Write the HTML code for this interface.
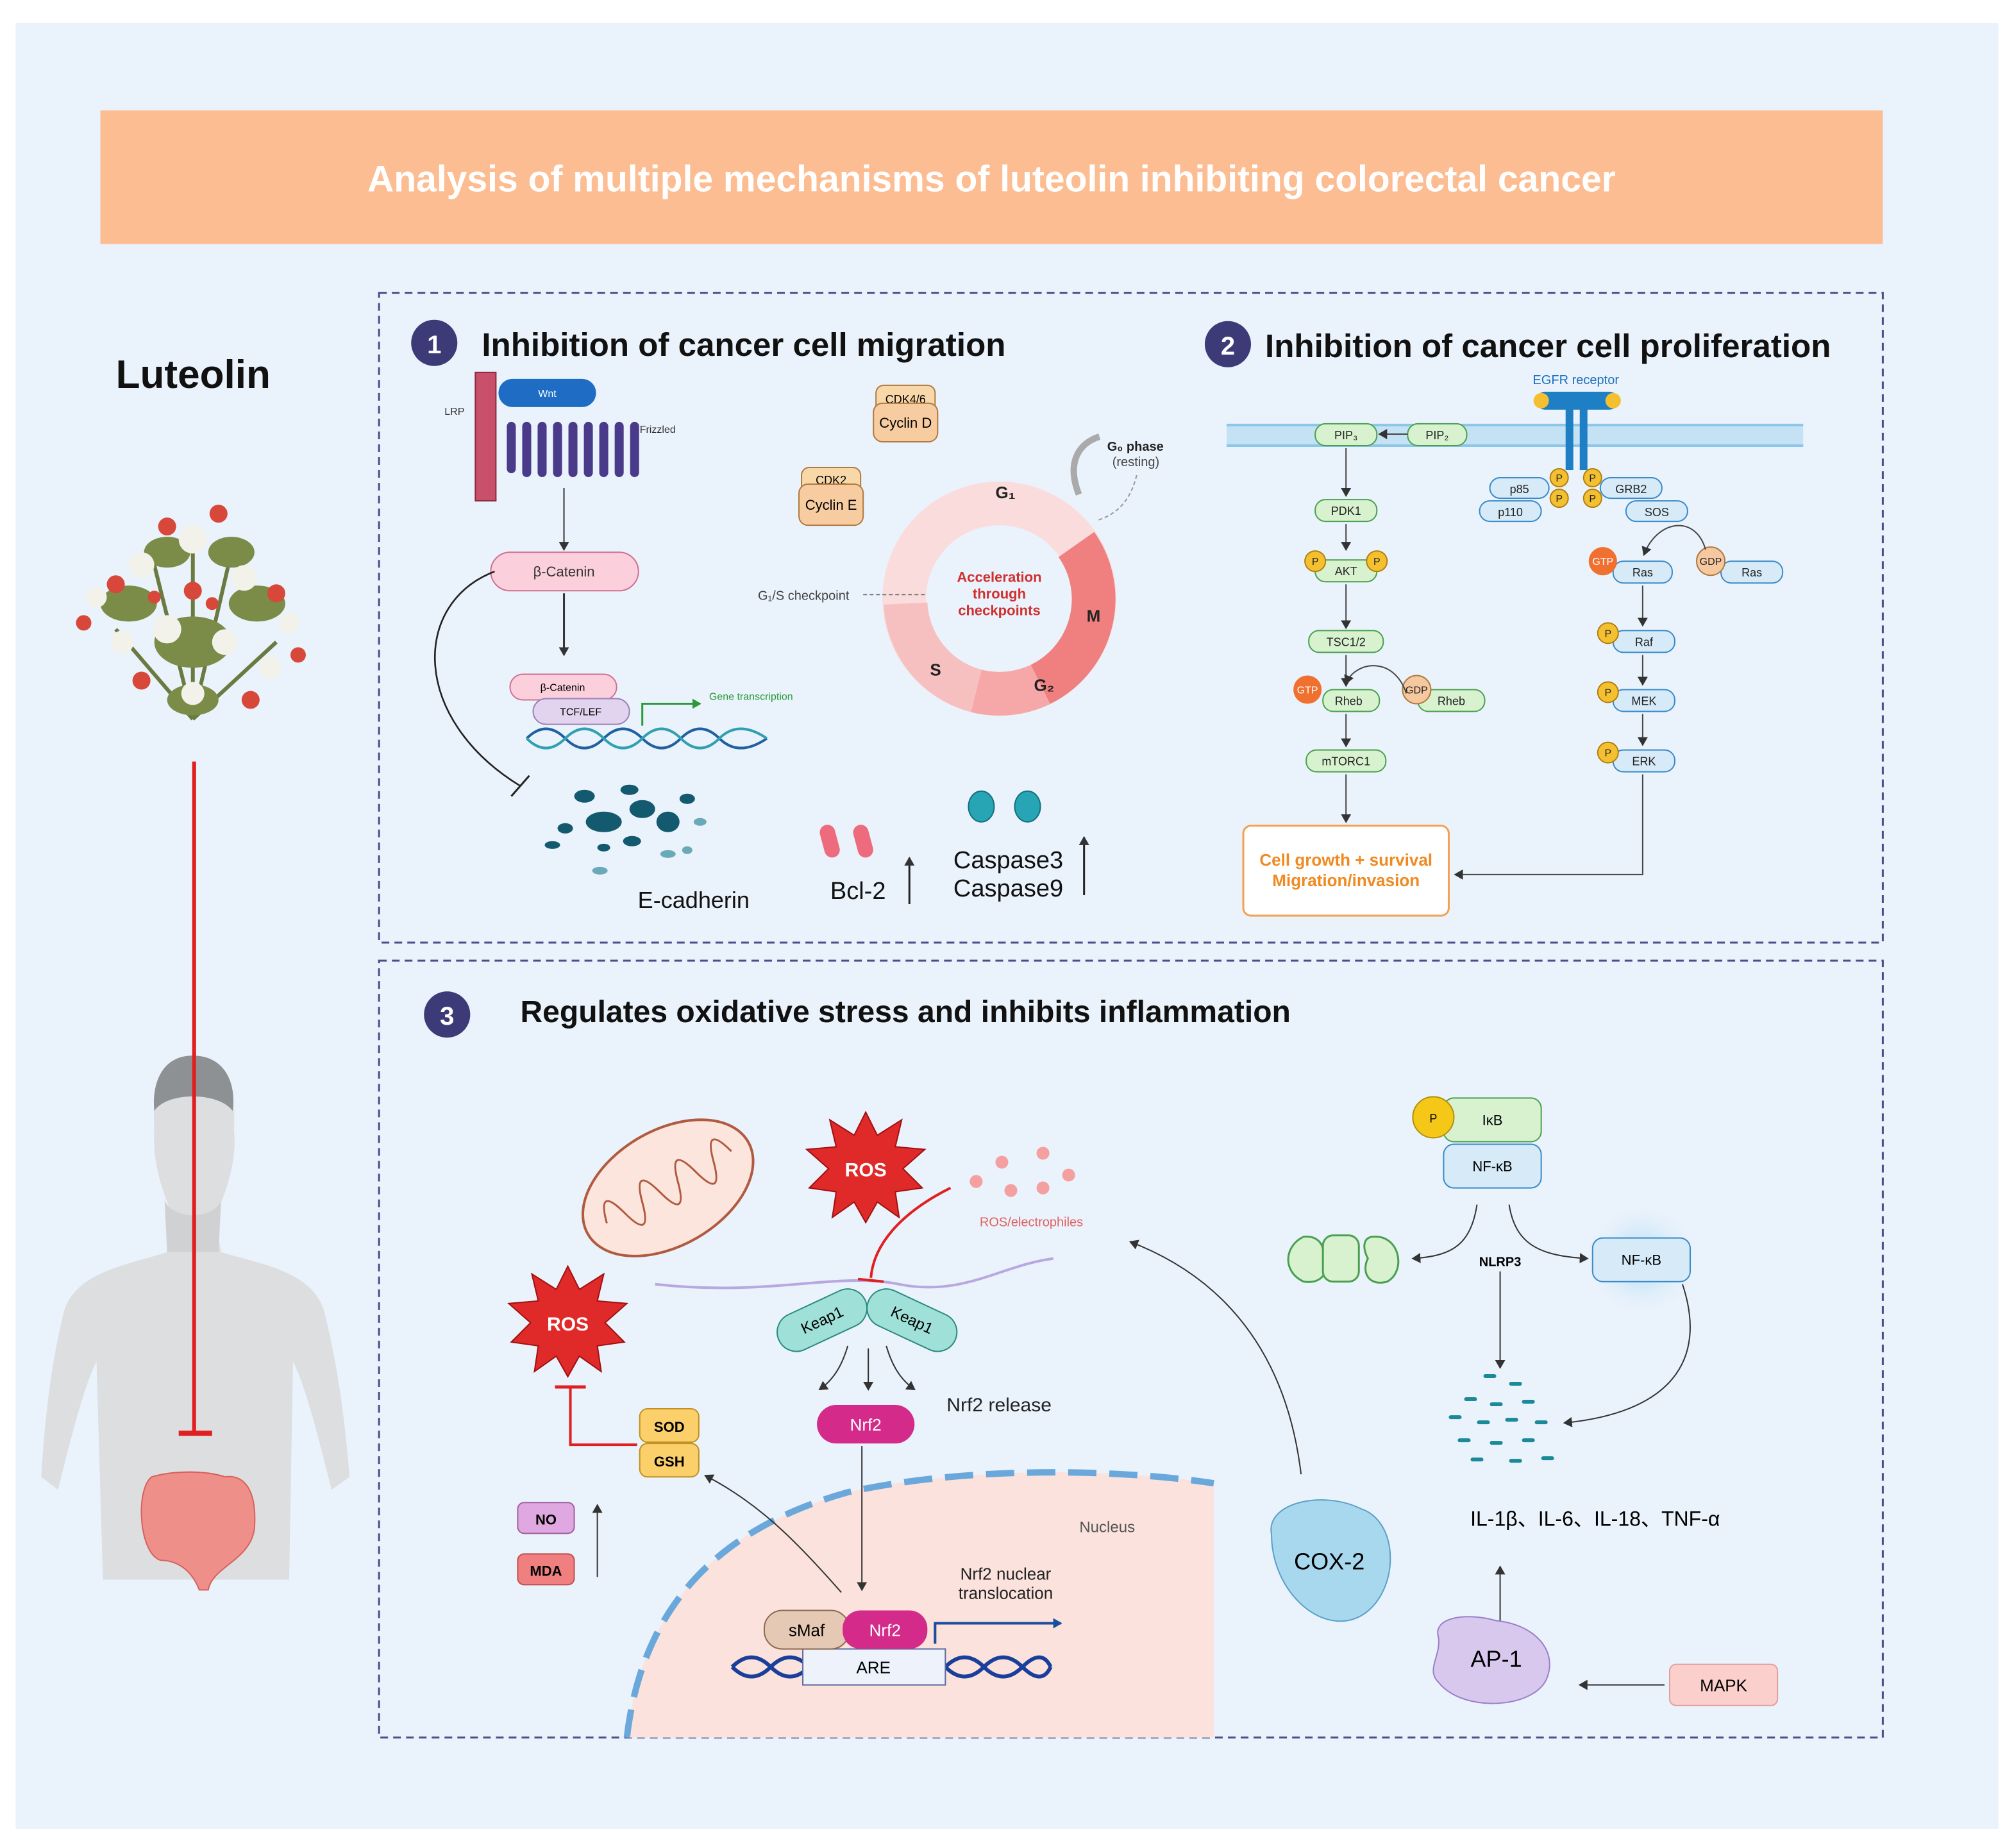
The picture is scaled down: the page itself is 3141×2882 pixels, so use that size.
<!DOCTYPE html>
<html><head><meta charset="utf-8"><style>
html,body{margin:0;padding:0;background:#fff}
svg{display:block}
text{font-family:"Liberation Sans",Arial,sans-serif}
</style></head><body>
<svg width="3141" height="2882" viewBox="0 0 1568 1439" xmlns="http://www.w3.org/2000/svg">
<defs>
<marker id="ah" markerWidth="8" markerHeight="8" refX="6" refY="4" orient="auto" markerUnits="userSpaceOnUse"><path d="M0,0 L7,4 L0,8 z" fill="#333"/></marker>
<marker id="ahb" markerWidth="8" markerHeight="8" refX="6" refY="4" orient="auto" markerUnits="userSpaceOnUse"><path d="M0,0 L7,4 L0,8 z" fill="#1a4fa0"/></marker>
<marker id="ahg" markerWidth="8" markerHeight="8" refX="6" refY="4" orient="auto" markerUnits="userSpaceOnUse"><path d="M0,0 L7,4 L0,8 z" fill="#2a9a3a"/></marker>
<radialGradient id="glow"><stop offset="0" stop-color="#9fd8f5"/><stop offset="1" stop-color="#eaf2fb" stop-opacity="0"/></radialGradient>
</defs>
<rect x="12" y="18" width="1544" height="1406" fill="#eaf2fb"/>
<rect x="78" y="86" width="1388" height="104" fill="#fdbd92"/>
<text x="772" y="149" font-size="28.5" font-weight="bold" fill="#fff" text-anchor="middle">Analysis of multiple mechanisms of luteolin inhibiting colorectal cancer</text>

<rect x="295" y="228" width="1171" height="506" fill="none" stroke="#4a4f8a" stroke-width="1.5" stroke-dasharray="6,4"/>
<rect x="295" y="748" width="1171" height="605" fill="none" stroke="#4a4f8a" stroke-width="1.5" stroke-dasharray="6,4"/>

<!-- left -->
<text x="90" y="302" font-size="31" font-weight="bold" fill="#111">Luteolin</text>
<g>
<g stroke="#6a7a40" stroke-width="3" fill="none"><path d="M150,560 L120,440 M150,560 L180,430 M150,560 L90,490 M150,560 L215,500 M150,560 L150,410"/></g>
<g fill="#7a8c48"><ellipse cx="100" cy="470" rx="22" ry="14"/><ellipse cx="200" cy="470" rx="22" ry="14"/><ellipse cx="150" cy="500" rx="30" ry="20"/><ellipse cx="130" cy="430" rx="18" ry="12"/><ellipse cx="180" cy="430" rx="18" ry="12"/><ellipse cx="150" cy="545" rx="20" ry="12"/></g>
<g fill="#f2f2ea"><circle cx="110" cy="440" r="10"/><circle cx="150" cy="420" r="11"/><circle cx="190" cy="450" r="10"/><circle cx="130" cy="490" r="11"/><circle cx="175" cy="500" r="10"/><circle cx="95" cy="500" r="9"/><circle cx="210" cy="520" r="9"/><circle cx="150" cy="540" r="9"/><circle cx="75" cy="465" r="8"/><circle cx="225" cy="485" r="8"/></g>
<g fill="#d8483a"><circle cx="130" cy="410" r="7"/><circle cx="170" cy="400" r="7"/><circle cx="90" cy="455" r="7"/><circle cx="215" cy="462" r="7"/><circle cx="150" cy="460" r="7"/><circle cx="110" cy="530" r="7"/><circle cx="195" cy="545" r="7"/><circle cx="65" cy="485" r="6"/><circle cx="232" cy="510" r="6"/><circle cx="165" cy="470" r="5"/><circle cx="120" cy="465" r="5"/></g>
</g>
<!-- body -->
<path d="M150,822 C125,822 118,850 120,880 C118,910 130,935 135,950 L130,975 C100,985 60,990 50,1020 C40,1060 35,1100 32,1150 L45,1160 C55,1120 65,1080 75,1060 L80,1230 L225,1230 L228,1060 C238,1080 248,1120 258,1160 L272,1150 C268,1100 262,1060 252,1020 C242,990 205,985 172,975 L167,950 C172,935 185,910 182,880 C184,850 176,822 150,822 z" fill="#dcdee0"/>
<path d="M150,822 C125,822 118,845 120,865 C130,850 170,850 181,865 C184,845 176,822 150,822 z" fill="#8e9194"/>
<path d="M128,935 C135,950 165,950 172,935 L170,975 L130,975 z" fill="#cfd1d3"/>
<path d="M118,1150 C105,1160 108,1210 125,1215 C140,1215 150,1225 155,1238 L162,1238 C165,1220 195,1215 198,1190 C200,1160 190,1148 175,1150 C160,1145 135,1145 118,1150 z" fill="#ee8f8a" stroke="#d9605c" stroke-width="1"/>
<line x1="151" y1="593" x2="151" y2="1115" stroke="#e02020" stroke-width="3"/>
<line x1="139" y1="1116" x2="165" y2="1116" stroke="#e02020" stroke-width="4"/>

<!-- section 1 -->
<circle cx="338" cy="267" r="18" fill="#3d3a78"/><text x="338" y="275" font-size="20" font-weight="bold" fill="#fff" text-anchor="middle">1</text>
<text x="375" y="277" font-size="25.5" font-weight="bold" fill="#111">Inhibition of cancer cell migration</text>
<rect x="370" y="290" width="16" height="100" fill="#c9506a" stroke="#8a2a40"/>
<text x="346" y="323" font-size="8" fill="#333">LRP</text>
<rect x="388" y="295" width="76" height="22" rx="11" fill="#1f6cc4"/><text x="426" y="309" font-size="8" fill="#fff" text-anchor="middle">Wnt</text>
<path d="M398,365 V332 M410,332 V368 M422,368 V332 M434,332 V368 M446,368 V332 M458,332 V368 M470,368 V332 M482,332 V368 M494,368 V332" stroke="#4a3a8a" stroke-width="7" fill="none" stroke-linecap="round"/>
<text x="498" y="337" font-size="8" fill="#333">Frizzled</text>
<line x1="439" y1="380" x2="439" y2="428" stroke="#333" marker-end="url(#ah)"/>
<rect x="382" y="430" width="115" height="30" rx="15" fill="#fbd0dc" stroke="#d07090"/><text x="439" y="449" font-size="11" fill="#333" text-anchor="middle">β-Catenin</text>
<line x1="439" y1="462" x2="439" y2="510" stroke="#333" stroke-width="1.5" marker-end="url(#ah)"/>
<path d="M385,445 C320,470 320,560 405,612" stroke="#222" stroke-width="1.3" fill="none"/>
<line x1="398" y1="620" x2="412" y2="604" stroke="#222" stroke-width="1.5"/>
<rect x="397" y="525" width="83" height="20" rx="10" fill="#fbd0dc" stroke="#d07090"/><text x="438" y="538" font-size="8" text-anchor="middle">β-Catenin</text>
<rect x="415" y="544" width="75" height="20" rx="10" fill="#e2d4ee" stroke="#9a80b8"/><text x="452" y="557" font-size="8" text-anchor="middle">TCF/LEF</text>
<path d="M410,575 Q425,560 440,575 T470,575 T500,575 T530,575 T560,575 T597,575" stroke="#2060a0" stroke-width="2" fill="none"/>
<path d="M410,575 Q425,590 440,575 T470,575 T500,575 T530,575 T560,575 T597,575" stroke="#30a0b0" stroke-width="2" fill="none"/>
<path d="M500,565 V548 H545" stroke="#2a9a3a" stroke-width="1.5" fill="none" marker-end="url(#ahg)"/>
<text x="552" y="545" font-size="8" fill="#2a9a3a">Gene transcription</text>
<g fill="#135a6e"><ellipse cx="470" cy="640" rx="14" ry="8"/><ellipse cx="500" cy="630" rx="10" ry="7"/><ellipse cx="520" cy="640" rx="9" ry="8"/><ellipse cx="455" cy="620" rx="8" ry="5"/><ellipse cx="490" cy="615" rx="7" ry="4"/><ellipse cx="440" cy="645" rx="6" ry="4"/><ellipse cx="430" cy="658" rx="6" ry="3"/><ellipse cx="492" cy="655" rx="7" ry="4"/><ellipse cx="535" cy="622" rx="6" ry="4"/><ellipse cx="470" cy="660" rx="5" ry="3"/></g>
<g fill="#6aaab8"><ellipse cx="520" cy="665" rx="6" ry="3"/><ellipse cx="545" cy="640" rx="5" ry="3"/><ellipse cx="467" cy="678" rx="6" ry="3"/><ellipse cx="535" cy="662" rx="4" ry="3"/></g>
<text x="540" y="707" font-size="18" fill="#111" text-anchor="middle">E-cadherin</text>
<!-- cell cycle -->
<circle cx="778" cy="466" r="74" fill="none" stroke="#fbdcdc" stroke-width="34"/>
<path d="M838,424 A74,74 0 0 1 810,533" stroke="#f08080" stroke-width="34" fill="none"/>
<path d="M810,533 A74,74 0 0 1 760,538" stroke="#f6a8a8" stroke-width="34" fill="none"/>
<path d="M760,538 A74,74 0 0 1 705,470" stroke="#f7c0c0" stroke-width="34" fill="none"/>
<text x="778" y="453" font-size="11" font-weight="bold" fill="#d03030" text-anchor="middle">Acceleration</text>
<text x="778" y="466" font-size="11" font-weight="bold" fill="#d03030" text-anchor="middle">through</text>
<text x="778" y="479" font-size="11" font-weight="bold" fill="#d03030" text-anchor="middle">checkpoints</text>
<text x="775" y="388" font-size="13" font-weight="bold" fill="#222">G₁</text>
<text x="846" y="484" font-size="13" font-weight="bold" fill="#222">M</text>
<text x="805" y="538" font-size="13" font-weight="bold" fill="#222">G₂</text>
<text x="724" y="526" font-size="13" font-weight="bold" fill="#222">S</text>
<text x="590" y="467" font-size="10" fill="#444">G₁/S checkpoint</text>
<line x1="672" y1="463" x2="720" y2="463" stroke="#777" stroke-dasharray="3,2"/>
<path d="M840,385 C830,360 840,345 856,340" stroke="#aaa" stroke-width="5" fill="none"/>
<path d="M885,370 C880,390 870,400 855,405" stroke="#999" stroke-dasharray="3,2" fill="none"/>
<text x="862" y="351" font-size="10" font-weight="bold" fill="#222">G₀ phase</text>
<text x="866" y="363" font-size="10" fill="#444">(resting)</text>
<rect x="682" y="300" width="46" height="22" rx="6" fill="#f8d8a8" stroke="#b07a40"/><text x="705" y="314" font-size="9" text-anchor="middle">CDK4/6</text>
<rect x="680" y="314" width="50" height="30" rx="7" fill="#f6cca0" stroke="#b07a40"/><text x="705" y="333" font-size="11" text-anchor="middle">Cyclin D</text>
<rect x="624" y="364" width="46" height="20" rx="6" fill="#f8d8a8" stroke="#b07a40"/><text x="647" y="377" font-size="9" text-anchor="middle">CDK2</text>
<rect x="622" y="377" width="50" height="32" rx="7" fill="#f6cca0" stroke="#b07a40"/><text x="647" y="397" font-size="11" text-anchor="middle">Cyclin E</text>
<g fill="#ee6b7d"><rect x="640" y="642" width="12" height="26" rx="6" transform="rotate(-15 646 655)"/><rect x="666" y="642" width="12" height="26" rx="6" transform="rotate(-15 672 655)"/></g>
<text x="668" y="700" font-size="19" fill="#111" text-anchor="middle">Bcl-2</text>
<line x1="708" y1="704" x2="708" y2="668" stroke="#222" stroke-width="1.5" marker-end="url(#ah)"/>
<g fill="#27a5b5" stroke="#13707e"><ellipse cx="764" cy="628" rx="10" ry="12"/><ellipse cx="800" cy="628" rx="10" ry="12"/></g>
<text x="785" y="676" font-size="19" fill="#111" text-anchor="middle">Caspase3</text>
<text x="785" y="698" font-size="19" fill="#111" text-anchor="middle">Caspase9</text>
<line x1="844" y1="697" x2="844" y2="652" stroke="#222" stroke-width="1.5" marker-end="url(#ah)"/>

<!-- section 2 -->
<circle cx="956" cy="268" r="18" fill="#3d3a78"/><text x="956" y="276" font-size="20" font-weight="bold" fill="#fff" text-anchor="middle">2</text>
<text x="985" y="278" font-size="25.5" font-weight="bold" fill="#111">Inhibition of cancer cell proliferation</text>
<rect x="955" y="330" width="449" height="18" fill="#c4e2f4"/>
<line x1="955" y1="331" x2="1404" y2="331" stroke="#8cc6e8" stroke-width="2"/><line x1="955" y1="347" x2="1404" y2="347" stroke="#8cc6e8" stroke-width="2"/>
<text x="1227" y="299" font-size="10" fill="#1a6fc0" text-anchor="middle">EGFR receptor</text>
<rect x="1196" y="305" width="64" height="14" rx="7" fill="#1f7fc4"/><circle cx="1200" cy="312" r="6" fill="#f5c030"/><circle cx="1256" cy="312" r="6" fill="#f5c030"/>
<rect x="1219" y="318" width="6" height="48" fill="#1f7fc4"/><rect x="1230" y="318" width="6" height="48" fill="#1f7fc4"/>
<g font-size="9" text-anchor="middle" fill="#222">
<g fill="#d8f2d0" stroke="#4aa050"><rect x="1024" y="330" width="48" height="17" rx="8"/><rect x="1096" y="330" width="46" height="17" rx="8"/><rect x="1024" y="389" width="48" height="17" rx="8"/><rect x="1024" y="436" width="48" height="17" rx="8"/><rect x="1019" y="491" width="58" height="17" rx="8"/><rect x="1030" y="537" width="44" height="17" rx="8"/><rect x="1104" y="537" width="52" height="17" rx="8"/><rect x="1017" y="584" width="62" height="17" rx="8"/></g>
<text x="1048" y="342">PIP₃</text><text x="1119" y="342">PIP₂</text><text x="1048" y="401">PDK1</text><text x="1048" y="448">AKT</text><text x="1048" y="503">TSC1/2</text><text x="1050" y="549">Rheb</text><text x="1130" y="549">Rheb</text><text x="1048" y="596">mTORC1</text>
<g fill="#d6eaf8" stroke="#3a8ac8"><rect x="1160" y="372" width="46" height="16" rx="8"/><rect x="1152" y="390" width="48" height="16" rx="8"/><rect x="1246" y="372" width="48" height="16" rx="8"/><rect x="1266" y="390" width="48" height="16" rx="8"/><rect x="1256" y="437" width="46" height="17" rx="8"/><rect x="1340" y="437" width="48" height="17" rx="8"/><rect x="1256" y="491" width="48" height="17" rx="8"/><rect x="1256" y="537" width="48" height="17" rx="8"/><rect x="1256" y="584" width="48" height="17" rx="8"/></g>
<text x="1183" y="384">p85</text><text x="1176" y="402">p110</text><text x="1270" y="384">GRB2</text><text x="1290" y="402">SOS</text><text x="1279" y="449">Ras</text><text x="1364" y="449">Ras</text><text x="1280" y="503">Raf</text><text x="1280" y="549">MEK</text><text x="1280" y="596">ERK</text>
<g fill="#f5c030" stroke="#b08010"><circle cx="1214" cy="372" r="7"/><circle cx="1240" cy="372" r="7"/><circle cx="1214" cy="388" r="7"/><circle cx="1240" cy="388" r="7"/><circle cx="1024" cy="437" r="8"/><circle cx="1072" cy="437" r="8"/><circle cx="1252" cy="493" r="8"/><circle cx="1252" cy="539" r="8"/><circle cx="1252" cy="586" r="8"/></g>
<g font-size="8"><text x="1214" y="375">P</text><text x="1240" y="375">P</text><text x="1214" y="391">P</text><text x="1240" y="391">P</text><text x="1024" y="440">P</text><text x="1072" y="440">P</text><text x="1252" y="496">P</text><text x="1252" y="542">P</text><text x="1252" y="589">P</text></g>
<circle cx="1018" cy="537" r="11" fill="#f07030"/><text x="1018" y="540" font-size="8" fill="#fff">GTP</text>
<circle cx="1103" cy="537" r="11" fill="#f6c8a0" stroke="#b07a40"/><text x="1103" y="540" font-size="8">GDP</text>
<circle cx="1248" cy="437" r="11" fill="#f07030"/><text x="1248" y="440" font-size="8" fill="#fff">GTP</text>
<circle cx="1332" cy="437" r="11" fill="#f6c8a0" stroke="#b07a40"/><text x="1332" y="440" font-size="8">GDP</text>
</g>
<g stroke="#444" fill="none" marker-end="url(#ah)">
<line x1="1096" y1="338" x2="1074" y2="338"/><line x1="1048" y1="349" x2="1048" y2="386"/><line x1="1048" y1="408" x2="1048" y2="428"/><line x1="1048" y1="455" x2="1048" y2="489"/><line x1="1048" y1="510" x2="1048" y2="534"/><line x1="1048" y1="556" x2="1048" y2="581"/><line x1="1048" y1="603" x2="1048" y2="640"/>
<path d="M1095,540 C1085,510 1055,515 1048,532"/><path d="M1328,428 C1320,400 1290,405 1280,432"/>
<line x1="1279" y1="456" x2="1279" y2="487"/><line x1="1279" y1="510" x2="1279" y2="533"/><line x1="1279" y1="556" x2="1279" y2="580"/>
<path d="M1279,603 V681 H1133"/>
</g>
<rect x="968" y="643" width="160" height="70" rx="6" fill="#fff" stroke="#f5a050" stroke-width="1.5"/>
<text x="1048" y="674" font-size="13" font-weight="bold" fill="#f08a20" text-anchor="middle">Cell growth + survival</text>
<text x="1048" y="690" font-size="13" font-weight="bold" fill="#f08a20" text-anchor="middle">Migration/invasion</text>

<!-- section 3 -->
<circle cx="348" cy="790" r="18" fill="#3d3a78"/><text x="348" y="798" font-size="20" font-weight="bold" fill="#fff" text-anchor="middle">3</text>
<text x="405" y="796" font-size="24" font-weight="bold" fill="#111">Regulates oxidative stress and inhibits inflammation</text>
<path d="M488,1353 C500,1250 560,1190 660,1162 C760,1140 880,1145 945,1155 L945,1353 z" fill="#fbe2dc"/>
<path d="M488,1353 C500,1250 560,1190 660,1162 C760,1140 880,1145 945,1155" stroke="#6aa8dc" stroke-width="5" fill="none" stroke-dasharray="22,10"/>
<text x="862" y="1193" font-size="12" fill="#555" text-anchor="middle">Nucleus</text>
<g transform="rotate(-30 520 925)"><ellipse cx="520" cy="925" rx="72" ry="45" fill="#fbe5dc" stroke="#b05a40" stroke-width="2"/><path d="M465,925 q8,-30 16,0 t16,0 t16,0 t16,0 t16,0 t16,0 t16,0" stroke="#b05a40" fill="none" stroke-width="1.5"/></g>
<path d="M510,1000 C600,1010 650,990 700,1000 S780,985 820,980" stroke="#b8a8e0" stroke-width="2" fill="none"/>
<polygon points="674,866 683,884 702,872 697,893 720,895 703,910 718,925 697,928 700,948 683,936 674,952 665,936 648,948 651,928 630,925 645,910 628,895 651,893 646,872 665,884" fill="#e02a2a" stroke="#a01010"/>
<text x="674" y="916" font-size="15" font-weight="bold" fill="#fff" text-anchor="middle">ROS</text>
<polygon points="442,986 451,1004 470,992 465,1013 488,1015 471,1030 486,1045 465,1048 468,1068 451,1056 442,1072 433,1056 416,1068 419,1048 398,1045 413,1030 396,1015 419,1013 414,992 433,1004" fill="#e02a2a" stroke="#a01010"/>
<text x="442" y="1036" font-size="15" font-weight="bold" fill="#fff" text-anchor="middle">ROS</text>
<g fill="#f4a0a0"><circle cx="780" cy="905" r="5"/><circle cx="812" cy="898" r="5"/><circle cx="760" cy="920" r="5"/><circle cx="787" cy="927" r="5"/><circle cx="812" cy="925" r="5"/><circle cx="832" cy="915" r="5"/></g>
<text x="803" y="955" font-size="10" fill="#e06060" text-anchor="middle">ROS/electrophiles</text>
<path d="M740,925 C700,945 680,970 678,995" stroke="#e02020" stroke-width="2" fill="none"/><line x1="668" y1="996" x2="688" y2="998" stroke="#e02020" stroke-width="2"/>
<g transform="rotate(-25 640 1028)"><rect x="603" y="1013" width="74" height="30" rx="15" fill="#9fe0d8" stroke="#2a8a80"/><text x="640" y="1032" font-size="12" text-anchor="middle">Keap1</text></g>
<g transform="rotate(25 710 1028)"><rect x="673" y="1013" width="74" height="30" rx="15" fill="#9fe0d8" stroke="#2a8a80"/><text x="710" y="1032" font-size="12" text-anchor="middle">Keap1</text></g>
<g stroke="#333" fill="none" marker-end="url(#ah)"><path d="M660,1048 C655,1065 648,1075 638,1082"/><line x1="676" y1="1050" x2="676" y2="1082"/><path d="M690,1048 C695,1065 702,1075 712,1082"/><line x1="671" y1="1126" x2="671" y2="1238"/><path d="M655,1240 C620,1200 590,1170 549,1149"/><path d="M1013,1148 C1000,1040 940,990 880,967"/></g>
<text x="737" y="1099" font-size="15" fill="#222">Nrf2 release</text>
<rect x="636" y="1094" width="76" height="30" rx="15" fill="#d42a8a"/><text x="674" y="1114" font-size="13" fill="#fff" text-anchor="middle">Nrf2</text>
<rect x="498" y="1097" width="46" height="26" rx="6" fill="#fbd06a" stroke="#c09020"/><text x="521" y="1115" font-size="11" font-weight="bold" text-anchor="middle">SOD</text>
<rect x="498" y="1124" width="46" height="26" rx="6" fill="#fbd06a" stroke="#c09020"/><text x="521" y="1142" font-size="11" font-weight="bold" text-anchor="middle">GSH</text>
<path d="M496,1125 H444 V1080" stroke="#e02020" stroke-width="2" fill="none"/><line x1="432" y1="1080" x2="456" y2="1080" stroke="#e02020" stroke-width="2.5"/>
<rect x="403" y="1170" width="44" height="24" rx="5" fill="#e0a8e0" stroke="#a060a0"/><text x="425" y="1187" font-size="11" font-weight="bold" text-anchor="middle">NO</text>
<rect x="403" y="1210" width="44" height="24" rx="5" fill="#f08080" stroke="#c05050"/><text x="425" y="1227" font-size="11" font-weight="bold" text-anchor="middle">MDA</text>
<line x1="465" y1="1228" x2="465" y2="1172" stroke="#333" marker-end="url(#ah)"/>
<text x="783" y="1230" font-size="13" fill="#222" text-anchor="middle">Nrf2 nuclear</text>
<text x="783" y="1245" font-size="13" fill="#222" text-anchor="middle">translocation</text>
<path d="M570,1298 Q585,1283 600,1298 T630,1298 M736,1298 Q751,1283 766,1298 T796,1298 T818,1298" stroke="#1a3f9a" stroke-width="3" fill="none"/>
<path d="M570,1298 Q585,1313 600,1298 T630,1298 M736,1298 Q751,1313 766,1298 T796,1298 T818,1298" stroke="#1a3f9a" stroke-width="3" fill="none"/>
<rect x="625" y="1284" width="111" height="28" fill="#eef2fb" stroke="#5a6aa0"/><text x="680" y="1303" font-size="13" text-anchor="middle">ARE</text>
<rect x="595" y="1254" width="66" height="30" rx="14" fill="#e6c9b4" stroke="#8a6a50"/><text x="628" y="1274" font-size="13" text-anchor="middle">sMaf</text>
<rect x="656" y="1254" width="66" height="30" rx="14" fill="#d42a8a"/><text x="689" y="1274" font-size="13" fill="#fff" text-anchor="middle">Nrf2</text>
<path d="M728,1280 V1264 H826" stroke="#1a4fa0" stroke-width="2" fill="none" marker-end="url(#ahb)"/>
<path d="M990,1195 C985,1170 1030,1160 1060,1175 C1090,1185 1090,1240 1060,1258 C1030,1275 990,1240 990,1195 z" fill="#a8d8ee" stroke="#5aa0c8"/>
<text x="1035" y="1222" font-size="18" text-anchor="middle">COX-2</text>
<rect x="1124" y="855" width="76" height="34" rx="8" fill="#d8f2d0" stroke="#4aa050"/><text x="1162" y="876" font-size="11" text-anchor="middle">IκB</text>
<circle cx="1116" cy="870" r="16" fill="#f5c818" stroke="#b09010"/><text x="1116" y="874" font-size="9" text-anchor="middle">P</text>
<rect x="1124" y="891" width="76" height="34" rx="8" fill="#d6eaf8" stroke="#3a8ac8"/><text x="1162" y="912" font-size="11" text-anchor="middle">NF-κB</text>
<circle cx="1278" cy="981" r="45" fill="url(#glow)"/>
<rect x="1240" y="964" width="76" height="34" rx="8" fill="#d6eaf8" stroke="#3a8ac8"/><text x="1278" y="985" font-size="11" text-anchor="middle">NF-κB</text>
<g fill="#d8f2d0" stroke="#4aa050" stroke-width="1.5"><path d="M1015,963 C1000,970 998,990 1015,998 C1030,1000 1035,990 1030,980 C1032,968 1025,962 1015,963 z"/><rect x="1030" y="962" width="28" height="36" rx="8"/><path d="M1070,963 C1090,962 1095,990 1080,998 C1065,1002 1060,990 1065,980 C1060,970 1062,963 1070,963 z"/></g>
<g stroke="#333" fill="none" marker-end="url(#ah)"><path d="M1150,938 C1145,970 1130,978 1100,980"/><path d="M1175,938 C1180,970 1200,978 1236,980"/><line x1="1168" y1="990" x2="1168" y2="1065"/><path d="M1310,1000 C1330,1060 1300,1100 1218,1108"/><line x1="1168" y1="1262" x2="1168" y2="1220"/><line x1="1296" y1="1312" x2="1230" y2="1312"/></g>
<text x="1168" y="986" font-size="10" font-weight="bold" text-anchor="middle">NLRP3</text>
<g fill="#1a8a98"><rect x="1155" y="1070" width="10" height="3" rx="1.5"/><rect x="1175" y="1076" width="10" height="3" rx="1.5"/><rect x="1140" y="1088" width="10" height="3" rx="1.5"/><rect x="1160" y="1092" width="10" height="3" rx="1.5"/><rect x="1185" y="1090" width="10" height="3" rx="1.5"/><rect x="1128" y="1102" width="10" height="3" rx="1.5"/><rect x="1150" y="1106" width="10" height="3" rx="1.5"/><rect x="1172" y="1104" width="10" height="3" rx="1.5"/><rect x="1195" y="1106" width="10" height="3" rx="1.5"/><rect x="1135" y="1120" width="10" height="3" rx="1.5"/><rect x="1160" y="1122" width="10" height="3" rx="1.5"/><rect x="1185" y="1120" width="10" height="3" rx="1.5"/><rect x="1145" y="1135" width="10" height="3" rx="1.5"/><rect x="1175" y="1136" width="10" height="3" rx="1.5"/><rect x="1200" y="1134" width="10" height="3" rx="1.5"/></g>
<text x="1242" y="1188" font-size="16" text-anchor="middle">IL-1β、IL-6、IL-18、TNF-α</text>
<path d="M1120,1275 C1115,1260 1140,1255 1165,1262 C1195,1265 1212,1285 1205,1305 C1198,1330 1140,1335 1120,1310 C1110,1300 1122,1290 1120,1275 z" fill="#d8c8ee" stroke="#9a80c8"/>
<text x="1165" y="1298" font-size="18" text-anchor="middle">AP-1</text>
<rect x="1300" y="1296" width="84" height="32" rx="5" fill="#fbd0cc" stroke="#e0a0a0"/><text x="1342" y="1317" font-size="13" text-anchor="middle">MAPK</text>
</svg>
</body></html>
